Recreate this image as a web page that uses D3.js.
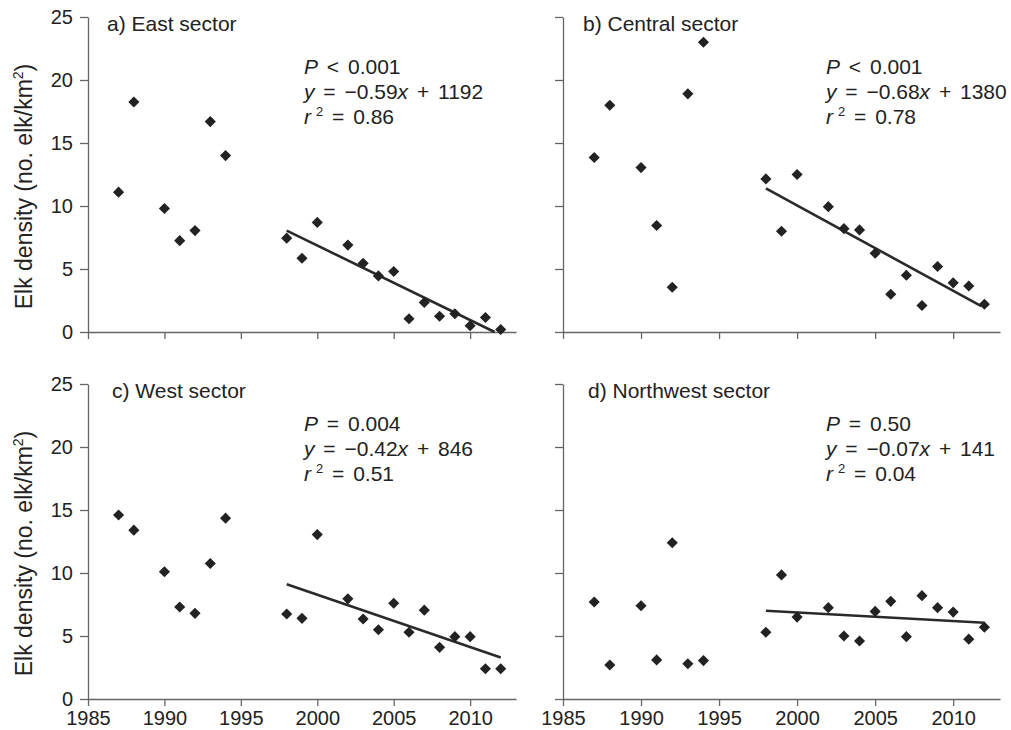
<!DOCTYPE html>
<html>
<head>
<meta charset="utf-8">
<script src="https://cdn.jsdelivr.net/npm/d3@7"></script>
<style>
  body { margin: 0; background: #fff; }
  svg { display: block; font-family: "Liberation Sans", Arial, Helvetica, sans-serif; }
  .axis path, .axis line { stroke: #666; stroke-width: 1.3; }
  .axis text { fill: #222; font-size: 20px; }
</style>
</head>
<body>
<svg id="chart" width="1011" height="730"></svg>
<script>
const years = [1987, 1988, 1990, 1991, 1992, 1993, 1994, 1998, 1999, 2000, 2002,
  2003, 2004, 2005, 2006, 2007, 2008, 2009, 2010, 2011, 2012]

const eastDensity = [11.1, 18.25, 9.8, 7.25, 8.05, 16.7, 14.0, 7.45, 5.85, 8.7, 6.9,
  5.45, 4.45, 4.8, 1.05, 2.35, 1.25, 1.45, 0.5, 1.15, 0.2]
const centralDensity = [13.85, 18.0, 13.05, 8.45, 3.55, 18.9, 23.0, 12.15, 8.0, 12.5, 9.95,
  8.2, 8.1, 6.25, 3.0, 4.5, 2.1, 5.2, 3.9, 3.65, 2.2]
const westDensity = [14.6, 13.4, 10.1, 7.3, 6.8, 10.75, 14.35, 6.75, 6.4, 13.05, 7.95,
  6.35, 5.5, 7.6, 5.3, 7.05, 4.1, 4.95, 4.95, 2.4, 2.4]
const northwestDensity = [7.7, 2.7, 7.4, 3.1, 12.4, 2.8, 3.05, 5.3, 9.85, 6.5, 7.25,
  5.0, 4.6, 6.95, 7.75, 4.95, 8.2, 7.25, 6.9, 4.75, 5.7]

// fitted lines, start and end of the drawn segment [year, density]
const eastTrend = [[1998, 8.05], [2011.6, 0]]
const centralTrend = [[1998, 11.4], [2011.8, 2.05]]
const westTrend = [[1998, 9.1], [2012, 3.3]]
const northwestTrend = [[1998, 7.0], [2012, 6.05]]

const sectorNames = ["a) East sector", "b) Central sector", "c) West sector", "d) Northwest sector"]
const pOps = ["<", "<", "=", "="]
const pValues = ["0.001", "0.001", "0.004", "0.50"]
const slopes = ["0.59", "0.68", "0.42", "0.07"]
const intercepts = ["1192", "1380", "846", "141"]
const rSquared = ["0.86", "0.78", "0.51", "0.04"]

const xTicks = [1985, 1990, 1995, 2000, 2005, 2010]
const yTicks = [0, 5, 10, 15, 20, 25]
const yLabel = "Elk density (no. elk/km"

const panels = [
  { values: eastDensity, trend: eastTrend, left: 88, right: 516, top: 17, bottom: 332, yLab: true, xLab: false, titleDx: 19, statsDx: 216, statsDy: 57 },
  { values: centralDensity, trend: centralTrend, left: 563, right: 1000, top: 17, bottom: 332, yLab: false, xLab: false, titleDx: 20, statsDx: 263, statsDy: 57 },
  { values: westDensity, trend: westTrend, left: 88, right: 516, top: 384, bottom: 699, yLab: true, xLab: true, titleDx: 24, statsDx: 216, statsDy: 47 },
  { values: northwestDensity, trend: northwestTrend, left: 563, right: 1000, top: 384, bottom: 699, yLab: false, xLab: true, titleDx: 25, statsDx: 263, statsDy: 47 }
]

let svg = d3.select("#chart")
let diamond = d3.symbol().type(d3.symbolSquare).size(62)

panels.forEach((p, i) => {
  let x = d3.scaleLinear().domain([1985, 2013]).range([p.left, p.right])
  let y = d3.scaleLinear().domain([0, 25]).range([p.bottom, p.top])

  let axisX = d3.axisBottom(x)
    .tickValues(xTicks)
    .tickSizeInner(7)
    .tickSizeOuter(0)
    .tickPadding(5)
    .tickFormat(p.xLab ? d3.format("d") : () => "")

  let axisY = d3.axisLeft(y)
    .tickValues(yTicks)
    .tickSizeInner(8)
    .tickSizeOuter(0)
    .tickPadding(7)
    .tickFormat(p.yLab ? d3.format("d") : () => "")

  svg.append("g")
    .attr("class", "axis")
    .attr("transform", `translate(0,${p.bottom})`)
    .call(axisX)

  svg.append("g")
    .attr("class", "axis")
    .attr("transform", `translate(${p.left},0)`)
    .call(axisY)

  svg.append("path")
    .datum(p.trend)
    .attr("fill", "none")
    .attr("stroke", "#2a2a2a")
    .attr("stroke-width", 2.6)
    .attr("d", d3.line().x(d => x(d[0])).y(d => y(d[1])))

  svg.append("g")
    .selectAll("path")
    .data(years.map((yr, k) => [yr, p.values[k]]))
    .join("path")
    .attr("d", diamond)
    .attr("transform", d => `translate(${x(d[0])},${y(d[1])}) rotate(45)`)
    .attr("fill", "#222")

  svg.append("text")
    .attr("x", p.left + p.titleDx)
    .attr("y", p.top + 14)
    .attr("font-size", 21)
    .attr("fill", "#222")
    .text(sectorNames[i])

  let stats = svg.append("text")
    .attr("font-size", 21)
    .attr("fill", "#222")
    .attr("word-spacing", 3)

  let sx = p.left + p.statsDx
  let sy = p.top + p.statsDy
  let l1 = stats.append("tspan").attr("x", sx).attr("y", sy)
  l1.append("tspan").attr("font-style", "italic").text("P")
  l1.append("tspan").text(` ${pOps[i]} ${pValues[i]}`)

  let l2 = stats.append("tspan").attr("x", sx).attr("y", sy + 25)
  l2.append("tspan").attr("font-style", "italic").text("y")
  l2.append("tspan").text(` = \u2212${slopes[i]}`)
  l2.append("tspan").attr("font-style", "italic").text("x")
  l2.append("tspan").text(` + ${intercepts[i]}`)

  let l3 = stats.append("tspan").attr("x", sx).attr("y", sy + 50)
  l3.append("tspan").attr("font-style", "italic").text("r")
  l3.append("tspan").attr("font-size", 13).attr("dx", 5).attr("dy", -8).text("2")
  l3.append("tspan").attr("dy", 8).text(` = ${rSquared[i]}`)

  if (p.yLab) {
    let lab = svg.append("text")
      .attr("transform", `translate(32,${(p.top + p.bottom) / 2 + 12}) rotate(-90)`)
      .attr("text-anchor", "middle")
      .attr("font-size", 23)
      .attr("fill", "#222")
    lab.append("tspan").text(yLabel)
    lab.append("tspan").attr("font-size", 14).attr("dy", -9).text("2")
    lab.append("tspan").attr("dy", 9).text(")")
  }
})
</script>
</body>
</html>
